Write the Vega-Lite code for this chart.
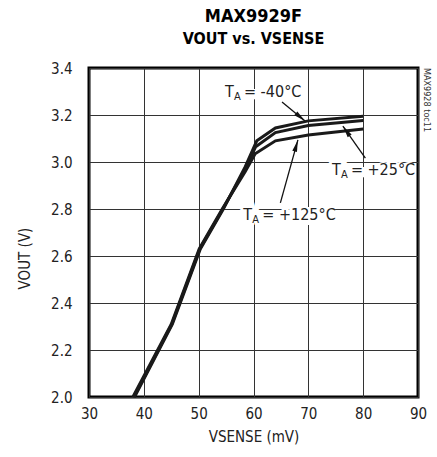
{
  "$schema": "https://vega.github.io/schema/vega-lite/v6.json",
  "width": 329,
  "height": 329,
  "autosize": {"type": "none"},
  "padding": {"left": 89, "top": 68, "right": 19, "bottom": 60},
  "background": "white",
  "title": {
    "text": "MAX9929F",
    "subtitle": "VOUT vs. VSENSE",
    "font": "DejaVu Sans Condensed, Roboto, sans-serif",
    "fontSize": 18,
    "fontWeight": "bold",
    "color": "black",
    "subtitleFont": "DejaVu Sans Condensed, Roboto, sans-serif",
    "subtitleFontSize": 16,
    "subtitleFontWeight": "bold",
    "subtitleColor": "black",
    "subtitlePadding": 5,
    "anchor": "middle",
    "offset": 14
  },
  "config": {
    "view": {"stroke": "black", "strokeWidth": 3},
    "axis": {
      "grid": true,
      "gridColor": "#333333",
      "gridWidth": 1,
      "gridOpacity": 1,
      "domain": false,
      "ticks": false,
      "labelFlush": false,
      "labelFont": "DejaVu Sans Condensed, Roboto, sans-serif",
      "labelFontSize": 15,
      "labelColor": "#222222",
      "titleFont": "DejaVu Sans Condensed, Roboto, sans-serif",
      "titleFontSize": 15,
      "titleFontWeight": "normal",
      "titleColor": "#222222"
    }
  },
  "datasets": {
    "curves": [
      {"temp": "-40", "vsense": 38.3, "vout": 2.0},
      {"temp": "-40", "vsense": 45.2, "vout": 2.31},
      {"temp": "-40", "vsense": 50.3, "vout": 2.63},
      {"temp": "-40", "vsense": 54.5, "vout": 2.8},
      {"temp": "-40", "vsense": 58.5, "vout": 2.98},
      {"temp": "-40", "vsense": 60.6, "vout": 3.09},
      {"temp": "-40", "vsense": 64.0, "vout": 3.145},
      {"temp": "-40", "vsense": 70.0, "vout": 3.175},
      {"temp": "-40", "vsense": 80.0, "vout": 3.195},
      {"temp": "+25", "vsense": 38.2, "vout": 2.0},
      {"temp": "+25", "vsense": 45.1, "vout": 2.31},
      {"temp": "+25", "vsense": 50.2, "vout": 2.63},
      {"temp": "+25", "vsense": 54.4, "vout": 2.8},
      {"temp": "+25", "vsense": 58.5, "vout": 2.97},
      {"temp": "+25", "vsense": 60.4, "vout": 3.065},
      {"temp": "+25", "vsense": 64.0, "vout": 3.125},
      {"temp": "+25", "vsense": 70.0, "vout": 3.155},
      {"temp": "+25", "vsense": 80.0, "vout": 3.177},
      {"temp": "+125", "vsense": 38.0, "vout": 2.0},
      {"temp": "+125", "vsense": 45.0, "vout": 2.31},
      {"temp": "+125", "vsense": 50.1, "vout": 2.63},
      {"temp": "+125", "vsense": 54.3, "vout": 2.8},
      {"temp": "+125", "vsense": 58.5, "vout": 2.96},
      {"temp": "+125", "vsense": 60.3, "vout": 3.035},
      {"temp": "+125", "vsense": 64.0, "vout": 3.09},
      {"temp": "+125", "vsense": 70.0, "vout": 3.115},
      {"temp": "+125", "vsense": 80.0, "vout": 3.14}
    ],
    "labels": [
      {"rest": "= -40°C", "full": "TA = -40°C", "x": 54.8, "y": 3.298},
      {"rest": "= +25°C", "full": "TA = +25°C", "x": 74.3, "y": 2.966},
      {"rest": "= +125°C", "full": "TA = +125°C", "x": 58.15, "y": 2.774}
    ],
    "arrows": [
      {"x": 65.2, "y": 3.255, "x2": 69.4, "y2": 3.174, "dir": 129.6},
      {"x": 80.4, "y": 3.017, "x2": 76.3, "y2": 3.153, "dir": 325.5},
      {"x": 64.9, "y": 2.826, "x2": 68.1, "y2": 3.094, "dir": 15.9}
    ],
    "note": [
      {"text": "MAX9928 toc11", "x": 91.7, "y": 3.4}
    ]
  },
  "layer": [
    {
      "data": {"name": "curves"},
      "mark": {"type": "line", "strokeWidth": 3, "color": "#1a1a1a"},
      "encoding": {
        "x": {
          "field": "vsense",
          "type": "quantitative",
          "scale": {"domain": [30, 90], "nice": false, "zero": false},
          "axis": {"values": [30, 40, 50, 60, 70, 80, 90], "title": "VSENSE (mV)", "labelPadding": 9, "titlePadding": 8}
        },
        "y": {
          "field": "vout",
          "type": "quantitative",
          "scale": {"domain": [2.0, 3.4], "nice": false, "zero": false},
          "axis": {"values": [2.0, 2.2, 2.4, 2.6, 2.8, 3.0, 3.2, 3.4], "format": ".1f", "title": "VOUT (V)", "labelPadding": 17, "titlePadding": 18, "titleY": 190}
        },
        "detail": {"field": "temp"}
      }
    },
    {
      "data": {"name": "labels"},
      "mark": {"type": "text", "align": "left", "baseline": "middle", "font": "DejaVu Sans Condensed, Roboto, sans-serif", "fontSize": 15, "stroke": "white", "strokeWidth": 6, "fill": "white", "dy": 2},
      "encoding": {
        "x": {"field": "x", "type": "quantitative"},
        "y": {"field": "y", "type": "quantitative"},
        "text": {"field": "full"}
      }
    },
    {
      "data": {"name": "labels"},
      "mark": {"type": "text", "align": "left", "baseline": "middle", "font": "DejaVu Sans Condensed, Roboto, sans-serif", "fontSize": 16, "color": "#222222", "text": "T"},
      "encoding": {
        "x": {"field": "x", "type": "quantitative"},
        "y": {"field": "y", "type": "quantitative"}
      }
    },
    {
      "data": {"name": "labels"},
      "mark": {"type": "text", "align": "left", "baseline": "middle", "font": "DejaVu Sans Condensed, Roboto, sans-serif", "fontSize": 11, "color": "#222222", "text": "A", "dx": 9, "dy": 5},
      "encoding": {
        "x": {"field": "x", "type": "quantitative"},
        "y": {"field": "y", "type": "quantitative"}
      }
    },
    {
      "data": {"name": "labels"},
      "mark": {"type": "text", "align": "left", "baseline": "middle", "font": "DejaVu Sans Condensed, Roboto, sans-serif", "fontSize": 16, "color": "#222222", "dx": 19},
      "encoding": {
        "x": {"field": "x", "type": "quantitative"},
        "y": {"field": "y", "type": "quantitative"},
        "text": {"field": "rest"}
      }
    },
    {
      "data": {"name": "arrows"},
      "mark": {"type": "rule", "strokeWidth": 1.3, "color": "#111111"},
      "encoding": {
        "x": {"field": "x", "type": "quantitative"},
        "y": {"field": "y", "type": "quantitative"},
        "x2": {"field": "x2"},
        "y2": {"field": "y2"}
      }
    },
    {
      "data": {"name": "arrows"},
      "mark": {"type": "point", "shape": "M0,0L0.4,2L-0.4,2Z", "filled": true, "size": 144, "color": "#111111", "opacity": 1},
      "encoding": {
        "x": {"field": "x2", "type": "quantitative"},
        "y": {"field": "y2", "type": "quantitative"},
        "angle": {"field": "dir", "type": "quantitative", "scale": null}
      }
    },
    {
      "data": {"name": "note"},
      "mark": {"type": "text", "align": "left", "baseline": "middle", "angle": 90, "font": "DejaVu Sans Condensed, Roboto, sans-serif", "fontSize": 9, "color": "#333333"},
      "encoding": {
        "x": {"field": "x", "type": "quantitative"},
        "y": {"field": "y", "type": "quantitative"},
        "text": {"field": "text"}
      }
    }
  ]
}
